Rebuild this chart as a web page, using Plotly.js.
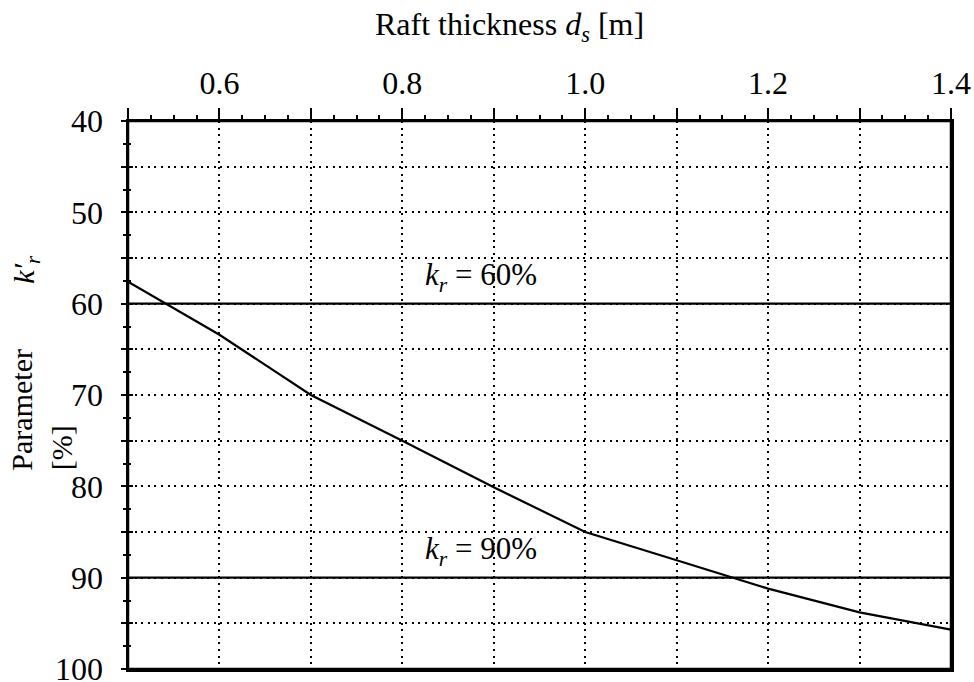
<!DOCTYPE html>
<html>
<head>
<meta charset="utf-8">
<script src="https://cdn.plot.ly/plotly-3.0.1.min.js"></script>
<style>html,body{margin:0;padding:0;background:#fff;overflow:hidden;}</style>
</head>
<body>
<div id="chart" style="width:974px;height:682px;"></div>
<script>
// Data
var thickness = [0.5, 0.6, 0.7, 0.8, 0.9, 1.0, 1.1, 1.2, 1.3, 1.4];
var krPrime   = [57.6, 63.4, 70.0, 75.0, 80.1, 85.0, 88.1, 91.2, 93.8, 95.7];
var krLevels  = [60, 90];
var krLabels  = ['<i>k<sub>r</sub></i> = 60%', '<i>k<sub>r</sub></i> = 90%'];
var xTickVals = [0.5, 0.6, 0.7, 0.8, 0.9, 1.0, 1.1, 1.2, 1.3, 1.4];
var xTickText = ['', '0.6', '', '0.8', '', '1.0', '', '1.2', '', '1.4'];
var yTickVals = [40, 45, 50, 55, 60, 65, 70, 75, 80, 85, 90, 95, 100];
var yTickText = ['40', '', '50', '', '60', '', '70', '', '80', '', '90', '', '100'];
var xRange = [0.5, 1.4];
var yRange = [100, 40];

var FONT = 'Liberation Serif, Times New Roman, serif';
var FS = 32;

var traces = [{
  x: thickness, y: krPrime, type: 'scatter', mode: 'lines',
  line: {color: '#000', width: 2.2}, hoverinfo: 'skip', showlegend: false
}];
krLevels.forEach(function (lv) {
  traces.push({
    x: xRange, y: [lv, lv], type: 'scatter', mode: 'lines', yaxis: 'y2',
    line: {color: '#000', width: 2.2}, hoverinfo: 'skip', showlegend: false
  });
});

var annotations = krLevels.map(function (lv, i) {
  return {
    text: krLabels[i], x: 0.886, y: lv, xref: 'x', yref: 'y',
    xanchor: 'center', yanchor: 'bottom', yshift: 5, showarrow: false,
    font: {family: FONT, size: 31, color: '#000'}
  };
});
annotations.push({
  text: 'Raft thickness <i>d<sub>s</sub></i> [m]', xref: 'paper', yref: 'paper',
  x: 0.463, y: 1, xanchor: 'center', yanchor: 'bottom', yshift: 72, showarrow: false,
  font: {family: FONT, size: FS, color: '#000'}
});
annotations.push({
  text: 'Parameter', xref: 'paper', yref: 'y', x: 0, xshift: -106, y: 78.5,
  xanchor: 'center', yanchor: 'bottom', textangle: -90, showarrow: false,
  font: {family: FONT, size: 30, color: '#000'}
});
annotations.push({
  text: '<i>k′<sub>r</sub></i>', xref: 'paper', yref: 'y', x: 0, xshift: -102, y: 56.3,
  xanchor: 'center', yanchor: 'middle', textangle: -90, showarrow: false,
  font: {family: FONT, size: 30, color: '#000'}
});
annotations.push({
  text: '[%]', xref: 'paper', yref: 'y', x: 0, xshift: -67, y: 78.5,
  xanchor: 'center', yanchor: 'bottom', textangle: -90, showarrow: false,
  font: {family: FONT, size: 30, color: '#000'}
});

var gridDash = '2px,4.6px';
var layout = {
  width: 974, height: 682,
  margin: {l: 128, r: 23, t: 121, b: 13, pad: 0},
  paper_bgcolor: '#fff', plot_bgcolor: '#fff',
  font: {family: FONT, size: FS, color: '#000'},
  showlegend: false,
  xaxis: {
    side: 'top', range: xRange, tickmode: 'array', tickvals: xTickVals, ticktext: xTickText,
    ticks: 'outside', ticklen: 11, tickwidth: 2, tickcolor: '#000',
    showline: true, linewidth: 2.5, linecolor: '#000', mirror: true,
    showgrid: true, gridcolor: '#000', gridwidth: 2, griddash: gridDash,
    zeroline: false, ticklabelstandoff: 1, ticklabeloverflow: 'allow',
    tickfont: {family: FONT, size: FS, color: '#000'},
    minor: {tickmode: 'linear', tick0: 0.5, dtick: 0.025, ticks: 'outside', ticklen: 4,
            tickwidth: 2, tickcolor: '#000', showgrid: false}
  },
  yaxis: {
    range: yRange, tickmode: 'array', tickvals: yTickVals, ticktext: yTickText,
    ticks: 'outside', ticklen: 5, tickwidth: 2, tickcolor: '#000',
    showline: true, linewidth: 2.5, linecolor: '#000', mirror: true,
    showgrid: true, gridcolor: '#000', gridwidth: 2, griddash: gridDash,
    zeroline: false, ticklabelstandoff: 11, ticklabeloverflow: 'allow',
    tickfont: {family: FONT, size: FS, color: '#000'},
    minor: {tickmode: 'linear', tick0: 40, dtick: 2.5, ticks: 'outside', ticklen: 2.5,
            tickwidth: 2, tickcolor: '#000', showgrid: false}
  },
  yaxis2: {
    overlaying: 'y', side: 'left', range: yRange, tickmode: 'array', tickvals: yTickVals,
    showticklabels: false, ticks: 'inside', ticklen: 5, tickwidth: 2, tickcolor: '#000',
    showline: false, showgrid: false, zeroline: false,
    minor: {tickmode: 'linear', tick0: 40, dtick: 2.5, ticks: 'inside', ticklen: 2.5,
            tickwidth: 2, tickcolor: '#000', showgrid: false}
  },
  shapes: [{
    type: 'rect', xref: 'paper', yref: 'paper', x0: 0, x1: 1, y0: 0, y1: 1,
    line: {color: '#000', width: 2.5}, fillcolor: 'rgba(0,0,0,0)', layer: 'above'
  }],
  annotations: annotations
};

Plotly.newPlot('chart', traces, layout, {staticPlot: true, displayModeBar: false});
</script>
</body>
</html>
